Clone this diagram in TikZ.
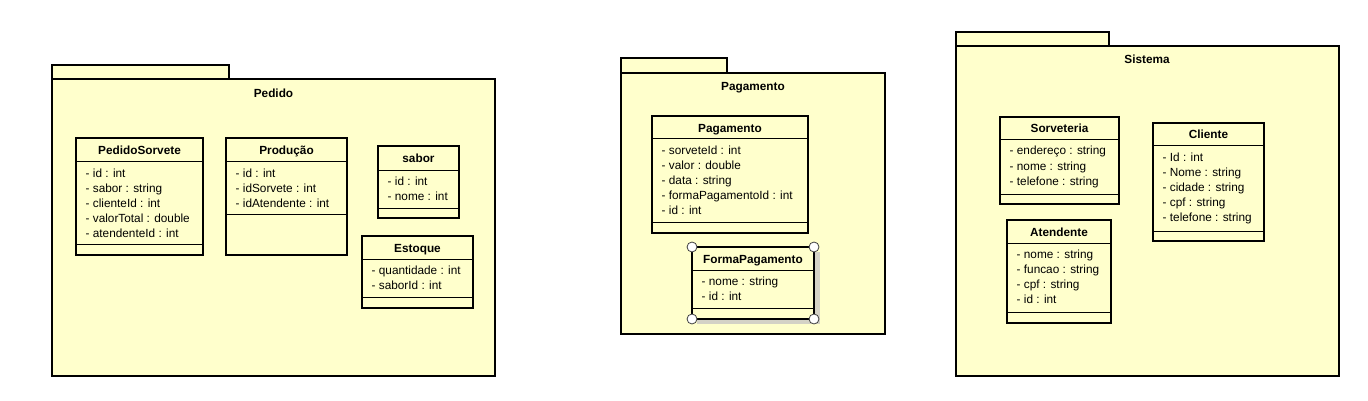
\documentclass[tikz,border=0pt]{standalone}
\usepackage{fontspec}
\setmainfont{Liberation Sans}
\definecolor{umlfill}{HTML}{FFFFCC}
\definecolor{shadowgray}{HTML}{D4D2C6}
\definecolor{handlegray}{HTML}{404040}
\tikzset{
  x=1pt, y=-1pt,
  pkgbox/.style={draw=black, line width=2pt, fill=umlfill},
  clsbox/.style={draw=black, line width=2pt, fill=umlfill, rectangle, inner sep=0pt, outer sep=0pt, anchor=north west},
  sepline/.style={draw=black, line width=1pt},
  pkgtitle/.style={font=\fontsize{11.8}{14}\selectfont\bfseries, anchor=base, inner sep=0pt},
  clstitle/.style={font=\fontsize{11.8}{14}\selectfont\bfseries, anchor=base, inner sep=0pt},
  attr/.style={font=\fontsize{11.8}{14}\selectfont, anchor=base west, inner sep=0pt},
  handle/.style={circle, draw=handlegray, line width=0.8pt, fill=white, minimum size=10pt, inner sep=0pt},
}
% #1 name, #2 x1, #3 y1, #4 x2, #5 y2, #6 header line y, #7 separator y, #8 title
\newcommand{\umlclassbox}[8]{%
  \node[clsbox, minimum width={#4-#2}, minimum height={#5-#3}] (#1) at (#2,#3) {};
  \draw[sepline] (#2,#6) -- (#4,#6);
  \draw[sepline] (#2,#7) -- (#4,#7);
  \node[clstitle] (#1-title) at ({(#2+#4)/2},{#6-7}) {#8};
}
% #1 name, #2 x1, #3 header y, #4 index, #5 text
\newcommand{\umlattr}[5]{%
  \node[attr] (#1-a#4) at ({#2+9.5},{#3+15*#4}) {#5};
}
\begin{document}
\begin{tikzpicture}
\useasboundingbox (0,0) rectangle (1368,401);
\fill[white] (0,0) rectangle (1368,401);

% ---------------- Package Pedido ----------------
\draw[pkgbox] (52,65) rectangle (229,79);
\draw[pkgbox] (52,79) rectangle (495,376);
\node[pkgtitle] (pedidoPkg) at (273.5,97.5) {Pedido};

\umlclassbox{ps}{76}{138}{203}{255}{162}{244}{PedidoSorvete}
\umlattr{ps}{76}{162}{1}{- id : int}
\umlattr{ps}{76}{162}{2}{- sabor : string}
\umlattr{ps}{76}{162}{3}{- clienteId : int}
\umlattr{ps}{76}{162}{4}{- valorTotal : double}
\umlattr{ps}{76}{162}{5}{- atendenteId : int}

\umlclassbox{prod}{226}{138}{347}{255}{162}{214}{Produção}
\umlattr{prod}{226}{162}{1}{- id : int}
\umlattr{prod}{226}{162}{2}{- idSorvete : int}
\umlattr{prod}{226}{162}{3}{- idAtendente : int}

\umlclassbox{sabor}{378}{146}{459}{218}{170}{208}{sabor}
\umlattr{sabor}{378}{170}{1}{- id : int}
\umlattr{sabor}{378}{170}{2}{- nome : int}

\umlclassbox{est}{362}{236}{473}{308}{259}{297}{Estoque}
\umlattr{est}{362}{259}{1}{- quantidade : int}
\umlattr{est}{362}{259}{2}{- saborId : int}

% ---------------- Package Pagamento ----------------
\draw[pkgbox] (621,58) rectangle (727,73);
\draw[pkgbox] (621,73) rectangle (885,334);
\node[pkgtitle] (pagPkg) at (753,91) {Pagamento};

\umlclassbox{pag}{652}{116}{808}{233}{139}{222}{Pagamento}
\umlattr{pag}{652}{139}{1}{- sorveteId : int}
\umlattr{pag}{652}{139}{2}{- valor : double}
\umlattr{pag}{652}{139}{3}{- data : string}
\umlattr{pag}{652}{139}{4}{- formaPagamentoId : int}
\umlattr{pag}{652}{139}{5}{- id : int}

\fill[shadowgray] (697,252) rectangle (820,324);
\umlclassbox{fp}{692}{247}{814}{319}{270}{308}{FormaPagamento}
\umlattr{fp}{692}{270}{1}{- nome : string}
\umlattr{fp}{692}{270}{2}{- id : int}
\node[handle] (fpNW) at (fp.north west) {};
\node[handle] (fpNE) at (fp.north east) {};
\node[handle] (fpSW) at (fp.south west) {};
\node[handle] (fpSE) at (fp.south east) {};

% ---------------- Package Sistema ----------------
\draw[pkgbox] (956,32) rectangle (1109,46);
\draw[pkgbox] (956,46) rectangle (1339,376);
\node[pkgtitle] (sisPkg) at (1147,64) {Sistema};

\umlclassbox{sorv}{1000}{117}{1119}{204}{140}{194}{Sorveteria}
\umlattr{sorv}{1000}{140}{1}{- endereço : string}
\umlattr{sorv}{1000}{140}{2}{- nome : string}
\umlattr{sorv}{1000}{140}{3}{- telefone : string}

\umlclassbox{aten}{1007}{220}{1111}{323}{243}{312}{Atendente}
\umlattr{aten}{1007}{243}{1}{- nome : string}
\umlattr{aten}{1007}{243}{2}{- funcao : string}
\umlattr{aten}{1007}{243}{3}{- cpf : string}
\umlattr{aten}{1007}{243}{4}{- id : int}

\umlclassbox{cli}{1153}{123}{1264}{241}{146}{231}{Cliente}
\umlattr{cli}{1153}{146}{1}{- Id : int}
\umlattr{cli}{1153}{146}{2}{- Nome : string}
\umlattr{cli}{1153}{146}{3}{- cidade : string}
\umlattr{cli}{1153}{146}{4}{- cpf : string}
\umlattr{cli}{1153}{146}{5}{- telefone : string}
\end{tikzpicture}
\end{document}
